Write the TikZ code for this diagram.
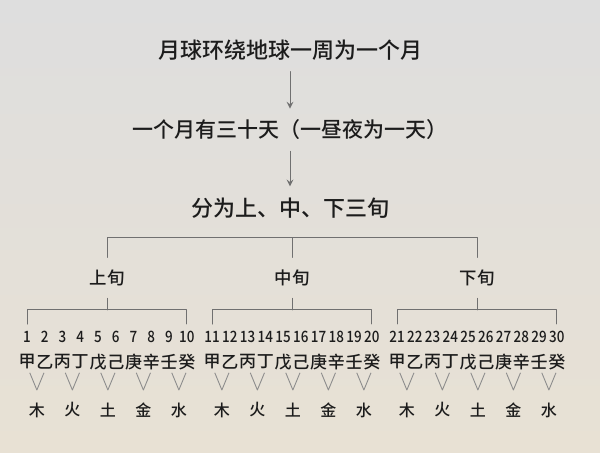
\documentclass[tikz,border=0pt]{standalone}
\usepackage{fontspec}
\setmainfont{Noto Sans CJK SC}[UprightFont={* Medium}, BoldFont={* Bold}]
\newfontfamily\sofont{Noto Sans CJK SC}[UprightFont={* Medium}, FakeStretch=0.86]
\definecolor{nen}{RGB}{222,222,222}
\definecolor{nengiua}{RGB}{226,225,222}
\definecolor{nenduoi}{RGB}{232,225,212}
\definecolor{chu}{RGB}{28,28,28}
\definecolor{vach}{RGB}{112,112,112}
\begin{document}
\begin{tikzpicture}[x=.5pt, y=.5pt, line join=round, line cap=round, >=stealth,
	dong/.style={text=chu, inner sep=5.5pt},
	tuan/.style={text=chu, font=\fontsize{8.7}{10}\selectfont, inner sep=6pt},
	so/.style={text=chu, font=\sofont\fontsize{7.8}{9}\selectfont, inner sep=3.5pt},
	can/.style={text=chu, font=\fontsize{8.5}{10}\selectfont, inner sep=1pt},
	hanh/.style={text=chu, font=\fontsize{8}{10}\selectfont, inner sep=1pt},
	day/.style={draw=vach, line width=.5pt},
	vmark/.style={draw=vach!80, line width=.45pt}]
	\shade[top color=nen, middle color=nengiua, bottom color=nenduoi] (0,0) rectangle (600,453);
	\useasboundingbox (0,0) rectangle (600,453);
	\def\buoc{17.75} % khoang cach giua hai ngay
	% ba dong chu tren cung
	\node[dong, font=\fontsize{11}{13}\selectfont] (thang) at (290,403) {月球环绕地球一周为一个月};
	\node[dong, font=\fontsize{10.5}{13}\selectfont] (ngay) at (290,323) {一个月有三十天（一昼夜为一天）};
	\node[dong, font=\fontsize{11}{13}\selectfont] (batuan) at (290,245) {分为上、中、下三旬};
	\draw[day, ->] (thang) -- (ngay);
	\draw[day, ->] (ngay) -- (batuan);
	% ba tuan
	\node[tuan] (thuong) at (107,175) {上旬};
	\node[tuan] (trung) at (292,175) {中旬};
	\node[tuan] (ha) at (477,175) {下旬};
	\coordinate (ngang) at (0,215);
	\coordinate (ngangduoi) at (0,143);
	\draw[day] (thuong.north) |- (ngang -| ha.north) -- (ha.north);
	\draw[day] (trung.north) -- (ngang -| trung.north);
	\foreach \g/\ten in {0/thuong,1/trung,2/ha} {
		\pgfmathsetmacro{\xg}{27+185*\g}
		\foreach \can [count=\i] in {甲,乙,丙,丁,戊,己,庚,辛,壬,癸} {
			\pgfmathtruncatemacro{\k}{10*\g+\i}
			\pgfmathsetmacro{\xx}{\xg+\buoc*(\i-1)}
			\node[so] (n\k) at (\xx,116) {\k};
			\node[can] (c\k) at (\xx,91) {\can};
		}
		\pgfmathtruncatemacro{\dau}{10*\g+1}
		\pgfmathtruncatemacro{\cuoi}{10*\g+10}
		\draw[day] (n\dau.north) |- (ngangduoi -| n\cuoi.north) -- (n\cuoi.north);
		\draw[day] (\ten.south) -- (ngangduoi -| \ten.south);
		\foreach \hanh [count=\p] in {木,火,土,金,水} {
			\pgfmathtruncatemacro{\m}{5*\g+\p}
			\pgfmathsetmacro{\xx}{\xg+\buoc*(2*\p-1.5)+1}
			\node[hanh] (h\m) at (\xx,43) {\hanh};
			\draw[vmark] ([shift={(-7,37)}]h\m.center) -- ([shift={(0,20)}]h\m.center) -- ([shift={(7,37)}]h\m.center);
		}
	}
\end{tikzpicture}
\end{document}
